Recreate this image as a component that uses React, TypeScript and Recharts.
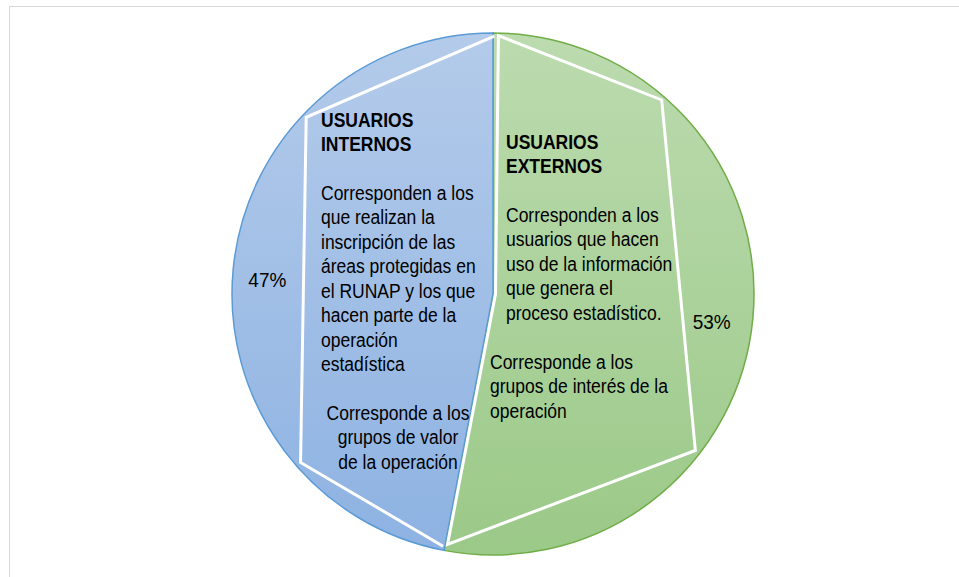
import React from "react";
import { PieChart, Pie, Cell } from "recharts";

// ---- data ----
const categories = ["USUARIOS EXTERNOS", "USUARIOS INTERNOS"];
const shares = [53, 47];
const percentLabels = ["53%", "47%"];

const internosTitle = ["USUARIOS", "INTERNOS"];
const internosBody = [
  "Corresponden a los",
  "que realizan la",
  "inscripción de las",
  "áreas protegidas en",
  "el RUNAP y los que",
  "hacen parte de la",
  "operación",
  "estadística",
];
const internosNote = ["Corresponde a los", "grupos de valor", "de la operación"];

const externosTitle = ["USUARIOS", "EXTERNOS"];
const externosBody = [
  "Corresponden a los",
  "usuarios que hacen",
  "uso de la información",
  "que genera el",
  "proceso estadístico.",
];
const externosNote = ["Corresponde a los", "grupos de interés de la", "operación"];

const data = categories.map((name, i) => ({ name, value: shares[i], label: percentLabels[i] }));

// ---- layout / style ----
const W = 959;
const H = 577;
const CX = 493;
const CY = 294;
const R = 261;
const FILLS = ["url(#gradGreen)", "url(#gradBlue)"];
const STROKES = ["#70ad47", "#5b9bd5"];
const FONT = "'Liberation Sans', Arial, sans-serif";
const FS = 20;
const SX = 0.875;
const LH = 24.5;

// point on circle given clockwise angle from top (deg) and radius fraction
const pt = (cx: number, cy: number, r: number, deg: number, f: number) => {
  const a = (deg * Math.PI) / 180;
  return [cx + Math.sin(a) * r * f, cy - Math.cos(a) * r * f];
};

const TextBlock = ({
  x,
  y,
  lines,
  bold,
  anchor,
}: {
  x: number;
  y: number;
  lines: string[];
  bold?: boolean;
  anchor?: "start" | "middle";
}) => (
  <text
    transform={`translate(${x},${y}) scale(${SX},1)`}
    fontFamily={FONT}
    fontSize={FS}
    fontWeight={bold ? 700 : 400}
    fill="#000"
    textAnchor={anchor || "start"}
  >
    {lines.map((l, i) => (
      <tspan key={i} x={0} y={i * LH}>
        {l}
      </tspan>
    ))}
  </text>
);

const renderLabel = (props: any) => {
  const { cx, cy, midAngle, outerRadius, index } = props;
  const RAD = Math.PI / 180;
  const lr = outerRadius * 0.855;
  const lx = cx + Math.cos(-midAngle * RAD) * lr;
  const ly = cy + Math.sin(-midAngle * RAD) * lr;
  const r = outerRadius;
  const pctText = (
    <text
      transform={`translate(${lx - 3.5},${ly + 14}) scale(0.95,1)`}
      fontFamily={FONT}
      fontSize={FS}
      fill="#000"
      textAnchor="middle"
    >
      {data[index].label}
    </text>
  );
  if (index === 0) {
    const pts = [
      pt(cx, cy, r, 1.2, 0.99),
      pt(cx, cy, r, 41, 0.985),
      pt(cx, cy, r, 127.7, 0.98),
      pt(cx, cy, r, 190.3, 0.975),
      [cx + 2.5, cy],
    ];
    return (
      <g key="lab0">
        <polygon
          points={pts.map((p) => p.join(",")).join(" ")}
          fill="none"
          stroke="#ffffff"
          strokeWidth={3}
          strokeLinejoin="miter"
        />
        <TextBlock x={cx + 13} y={cy - 145} lines={externosTitle} bold />
        <TextBlock x={cx + 13} y={cy - 72} lines={externosBody} />
        <TextBlock x={cx - 3} y={cy + 75} lines={externosNote} />
        {pctText}
      </g>
    );
  }
  const pts = [
    pt(cx, cy, r, 191.2, 0.985),
    pt(cx, cy, r, 228.8, 0.98),
    pt(cx, cy, r, 313.4, 0.985),
    pt(cx, cy, r, 0.3, 0.988),
  ];
  return (
    <g key="lab1">
      <polyline
        points={pts.map((p) => p.join(",")).join(" ")}
        fill="none"
        stroke="#ffffff"
        strokeWidth={3}
        strokeLinejoin="miter"
      />
      <TextBlock x={cx - 172} y={cy - 167} lines={internosTitle} bold />
      <TextBlock x={cx - 172} y={cy - 94} lines={internosBody} />
      <TextBlock x={cx - 95} y={cy + 126} lines={internosNote} anchor="middle" />
      {pctText}
    </g>
  );
};

export default function App() {
  return (
    <div
      style={{
        position: "absolute",
        left: 0,
        top: 0,
        width: W,
        height: H,
        background: "#ffffff",
        overflow: "hidden",
      }}
    >
      <div
        style={{
          position: "absolute",
          left: 9,
          top: 6,
          width: W + 20,
          height: H + 20,
          border: "1.5px solid #d9d9d9",
          boxSizing: "border-box",
        }}
      />
      <div style={{ position: "absolute", left: 0, top: 0 }}>
        <PieChart width={W} height={H} margin={{ top: 0, right: 0, bottom: 0, left: 0 }}>
          <defs>
            <linearGradient id="gradBlue" x1="0" y1={CY - R} x2="0" y2={CY + R} gradientUnits="userSpaceOnUse">
              <stop offset="0%" stopColor="#b4cbea" />
              <stop offset="100%" stopColor="#8db2e2" />
            </linearGradient>
            <linearGradient id="gradGreen" x1="0" y1={CY - R} x2="0" y2={CY + R} gradientUnits="userSpaceOnUse">
              <stop offset="0%" stopColor="#bcdbaf" />
              <stop offset="100%" stopColor="#9bc988" />
            </linearGradient>
          </defs>
          <Pie
            data={data}
            dataKey="value"
            nameKey="name"
            cx={CX}
            cy={CY}
            innerRadius={0}
            outerRadius={R}
            startAngle={90}
            endAngle={-270}
            isAnimationActive={false}
            labelLine={false}
            label={renderLabel}
          >
            {data.map((d, i) => (
              <Cell key={d.name} fill={FILLS[i]} stroke={STROKES[i]} strokeWidth={1.5} />
            ))}
          </Pie>
        </PieChart>
      </div>
    </div>
  );
}
